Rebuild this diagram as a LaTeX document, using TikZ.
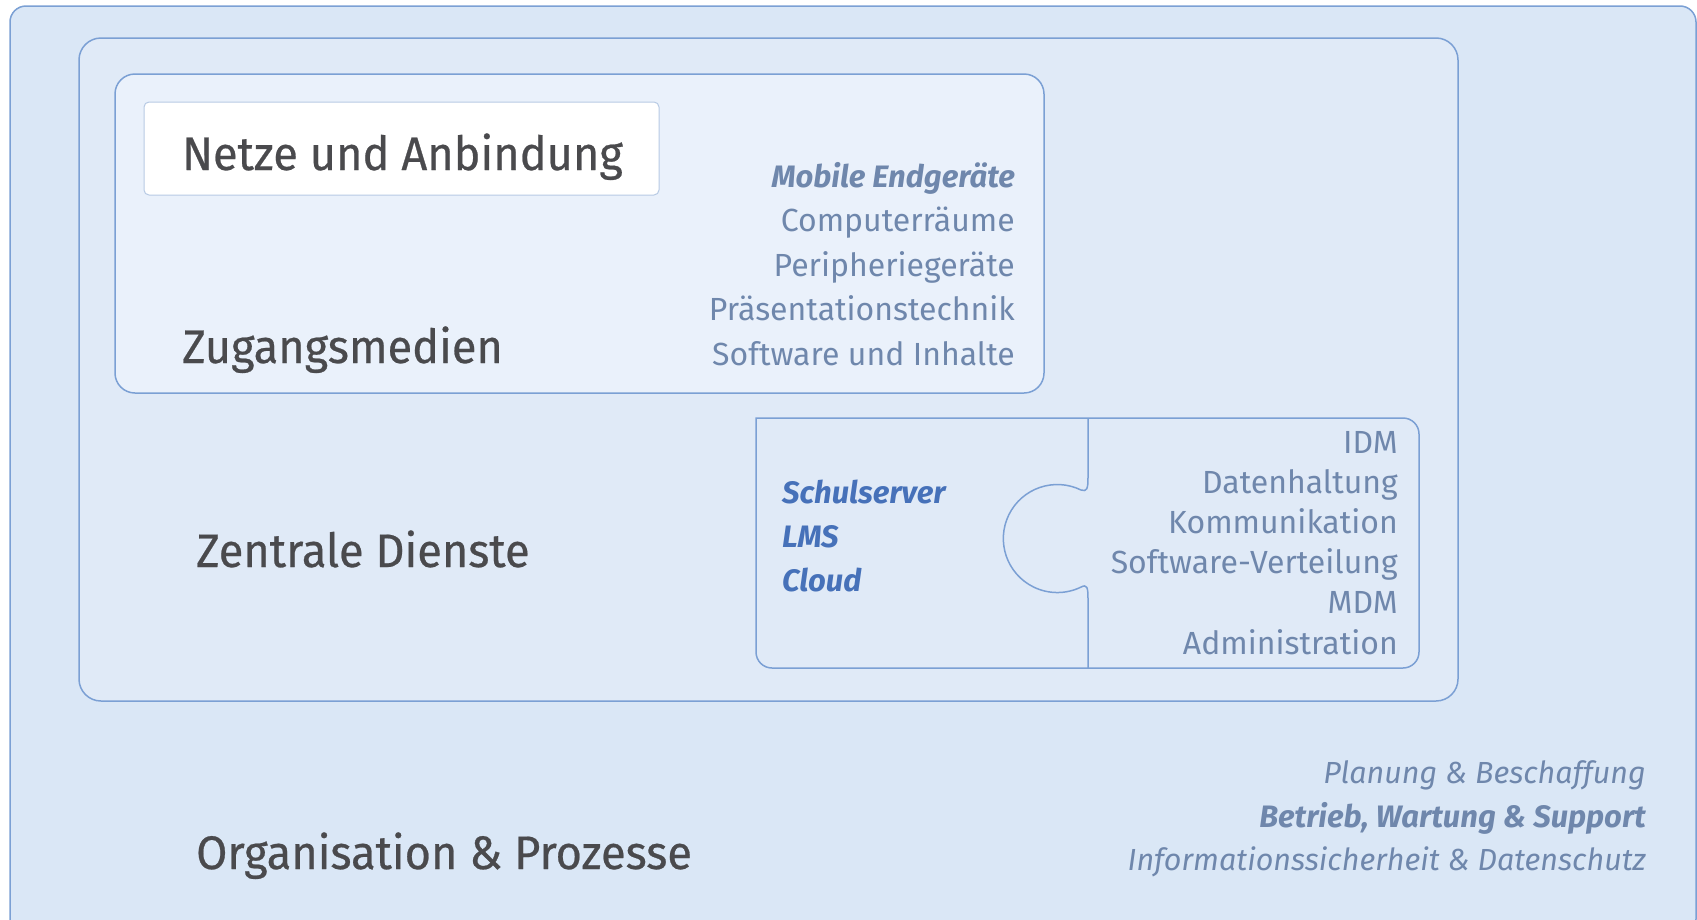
\documentclass[tikz,border=0pt]{standalone}
\usepackage{fontspec}
\setmainfont{Fira Sans}
\newfontfamily\headfont{Fira Sans}[FakeBold=0.5,FakeStretch=0.96]
\usepackage{tikz}

\definecolor{outerfill}{HTML}{DAE7F6}
\definecolor{midfill}{HTML}{E0EAF7}
\definecolor{innerfill}{HTML}{EAF1FB}
\definecolor{edgeblue}{HTML}{7BA0D4}
\definecolor{paleedge}{HTML}{B7CAE4}
\definecolor{titlegray}{HTML}{4A4A4D}
\definecolor{itemblue}{HTML}{6F87AC}
\definecolor{keyblue}{HTML}{4671B9}

\begin{document}
\begin{tikzpicture}[x=1pt,y=-1pt,
    frame/.style={draw=edgeblue,line width=1.5pt},
    title/.style={anchor=base west,inner sep=0pt,text=titlegray,font=\headfont\fontsize{47}{50}\selectfont},
    item/.style={anchor=base east,inner sep=0pt,text=itemblue,font=\fontsize{32}{35}\selectfont},
    keyitem/.style={anchor=base west,inner sep=0pt,text=keyblue,font=\fontsize{31}{34}\selectfont\bfseries\itshape},
    orgaitem/.style={anchor=base east,inner sep=0pt,text=itemblue,font=\fontsize{30.5}{34}\selectfont\itshape}]
        \useasboundingbox (0,0) rectangle (1697,919);
        \draw [frame,fill=outerfill,rounded corners=16pt] (10,6) rectangle (1696,935); % Organisation layer.
        \draw [frame,fill=midfill,rounded corners=22pt] (79,38) rectangle (1458,701); % Zentrale Dienste layer.
        \draw [frame,fill=innerfill,rounded corners=20pt] (115,74) rectangle (1044,393); % Zugangsmedien layer.
        \draw [draw=paleedge,line width=1pt,fill=white,rounded corners=5pt] (144,102) rectangle (659,195); % Netze label box.

        % Puzzle piece, square top left corner.
        \draw [frame,fill=midfill] (756,418) -- (1403,418) arc[start angle=-90,end angle=0,radius=16]
              -- (1419,652) arc[start angle=0,end angle=90,radius=16]
              -- (772,668) arc[start angle=90,end angle=180,radius=16] -- cycle;
        \draw [frame] (1088,418) -- (1088,477) .. controls (1088,489) and (1087,492) .. (1081,490)
              arc[start angle=-64,end angle=-296,radius=54]
              .. controls (1087,584) and (1088,587) .. (1088,599) -- (1088,668);

        \node [title] (netze) at (182,170) {Netze und Anbindung};
        \node [title] (zugang) at (182,363) {Zugangsmedien};
        \node [title] (zentral) at (196,567) {Zentrale Dienste};
        \node [title] (orga) at (196,869) {Organisation \& Prozesse};

        \node [item,font=\fontsize{31}{34}\selectfont\bfseries\itshape] (mobil) at (1015,187) {Mobile Endgeräte};
        \foreach \txt [count=\i] in {Computerräume,Peripheriegeräte,Präsentationstechnik,Software und Inhalte}
            \node [item] (medium\i) at (1015,187+44.6*\i) {\txt};

        \node [keyitem] (schulserver) at (782,503) {Schulserver};
        \node [keyitem] (lms) at (782,547) {LMS};
        \node [keyitem] (cloud) at (782,591) {Cloud};
        \foreach \txt [count=\i from 0] in {IDM,Datenhaltung,Kommunikation,Software-Verteilung,MDM,Administration}
            \node [item] (dienst\i) at (1398,453+40.2*\i) {\txt};

        \node [orgaitem] (planung) at (1646,783) {Planung \& Beschaffung};
        \node [orgaitem,font=\fontsize{31}{34}\selectfont\bfseries\itshape] (betrieb) at (1646,827) {Betrieb, Wartung \& Support};
        \node [orgaitem] (sicherheit) at (1646,870) {Informationssicherheit \& Datenschutz};
\end{tikzpicture}
\end{document}
